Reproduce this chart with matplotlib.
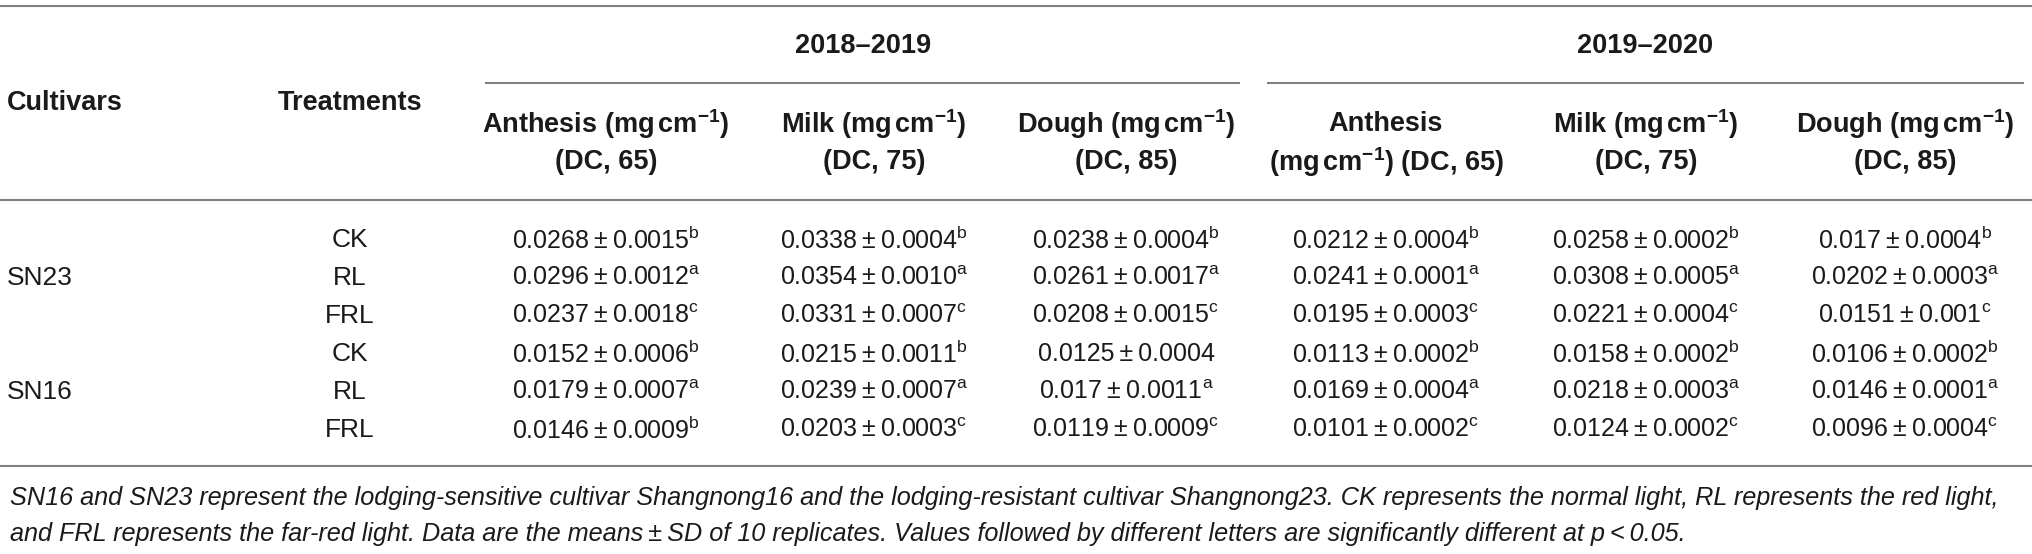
import matplotlib
matplotlib.use("Agg")
import matplotlib.pyplot as plt

plt.rcParams['font.family'] = ['Liberation Sans', 'DejaVu Sans']
plt.rcParams['mathtext.fontset'] = 'custom'
plt.rcParams['mathtext.rm'] = 'Liberation Sans'
plt.rcParams['mathtext.it'] = 'Liberation Sans:italic'
plt.rcParams['mathtext.bf'] = 'Liberation Sans:bold'

# table content
years = ["2018\u20132019", "2019\u20132020"]
cultivars = ["SN23", "SN16"]
treatments = ["CK", "RL", "FRL", "CK", "RL", "FRL"]

unit = r"mg$\,$cm$^{\mathbf{-1}}$"
header_top = ["Anthesis (" + unit + ")", "Milk (" + unit + ")", "Dough (" + unit + ")",
              "Anthesis", "Milk (" + unit + ")", "Dough (" + unit + ")"]
header_bottom = ["(DC, 65)", "(DC, 75)", "(DC, 85)",
                 "(" + unit + ") (DC, 65)", "(DC, 75)", "(DC, 85)"]

anthesis_1819 = ["0.0268", "0.0296", "0.0237", "0.0152", "0.0179", "0.0146"]
anthesis_1819_sd = ["0.0015", "0.0012", "0.0018", "0.0006", "0.0007", "0.0009"]
anthesis_1819_sig = ["b", "a", "c", "b", "a", "b"]

milk_1819 = ["0.0338", "0.0354", "0.0331", "0.0215", "0.0239", "0.0203"]
milk_1819_sd = ["0.0004", "0.0010", "0.0007", "0.0011", "0.0007", "0.0003"]
milk_1819_sig = ["b", "a", "c", "b", "a", "c"]

dough_1819 = ["0.0238", "0.0261", "0.0208", "0.0125", "0.017", "0.0119"]
dough_1819_sd = ["0.0004", "0.0017", "0.0015", "0.0004", "0.0011", "0.0009"]
dough_1819_sig = ["b", "a", "c", "", "a", "c"]

anthesis_1920 = ["0.0212", "0.0241", "0.0195", "0.0113", "0.0169", "0.0101"]
anthesis_1920_sd = ["0.0004", "0.0001", "0.0003", "0.0002", "0.0004", "0.0002"]
anthesis_1920_sig = ["b", "a", "c", "b", "a", "c"]

milk_1920 = ["0.0258", "0.0308", "0.0221", "0.0158", "0.0218", "0.0124"]
milk_1920_sd = ["0.0002", "0.0005", "0.0004", "0.0002", "0.0003", "0.0002"]
milk_1920_sig = ["b", "a", "c", "b", "a", "c"]

dough_1920 = ["0.017", "0.0202", "0.0151", "0.0106", "0.0146", "0.0096"]
dough_1920_sd = ["0.0004", "0.0003", "0.001", "0.0002", "0.0001", "0.0004"]
dough_1920_sig = ["b", "a", "c", "b", "a", "c"]

caption = ["SN16 and SN23 represent the lodging-sensitive cultivar Shangnong16 and the "
           "lodging-resistant cultivar Shangnong23. CK represents the normal light, RL represents the red light,",
           "and FRL represents the far-red light. Data are the means\u2009\u00b1\u2009SD of 10 replicates. "
           "Values followed by different letters are significantly different at p\u2009<\u20090.05."]

columns = [(anthesis_1819, anthesis_1819_sd, anthesis_1819_sig),
           (milk_1819, milk_1819_sd, milk_1819_sig),
           (dough_1819, dough_1819_sd, dough_1819_sig),
           (anthesis_1920, anthesis_1920_sd, anthesis_1920_sig),
           (milk_1920, milk_1920_sd, milk_1920_sig),
           (dough_1920, dough_1920_sd, dough_1920_sig)]

# layout in pixels
W, H = 2032, 554
col_x = [606, 874, 1126, 1386, 1646, 1905]
year_x = [863, 1645]
sub_rules = [(485, 1240), (1267, 2024)]
row_y0, row_dy = 240, 38
text_col = "#1a1a1a"
rule_col = "#808080"

fig = plt.figure(figsize=(W / 100, H / 100), dpi=100)
ax = fig.add_axes([0, 0, 1, 1])
ax.set_xlim(0, W)
ax.set_ylim(H, 0)
ax.axis("off")

# rules
for y in (6, 200, 466):
    ax.plot([0, W], [y, y], color=rule_col, lw=1.5, solid_capstyle="butt")
for x0, x1 in sub_rules:
    ax.plot([x0, x1], [83, 83], color=rule_col, lw=1.5, solid_capstyle="butt")

# header
for x, label in zip(year_x, years):
    ax.text(x, 46, label, ha="center", va="center", fontsize=19.5, fontweight="bold", color=text_col)
ax.text(7, 103, "Cultivars", ha="left", va="center", fontsize=19.5, fontweight="bold", color=text_col)
ax.text(350, 103, "Treatments", ha="center", va="center", fontsize=19.5, fontweight="bold", color=text_col)
for x, top, bottom in zip(col_x, header_top, header_bottom):
    ax.text(x, 124, top, ha="center", va="center", fontsize=19.5, fontweight="bold", color=text_col)
    ax.text(x, 162, bottom, ha="center", va="center", fontsize=19.5, fontweight="bold", color=text_col)

# body
for i, name in enumerate(cultivars):
    ax.text(7, row_y0 + (3 * i + 1) * row_dy, name, ha="left", va="center", fontsize=19, color=text_col)
for i, tr in enumerate(treatments):
    ax.text(350, row_y0 + i * row_dy, tr, ha="center", va="center", fontsize=19, color=text_col)

for x, (means, sds, sigs) in zip(col_x, columns):
    for i in range(len(means)):
        s = means[i] + "\u2009\u00b1\u2009" + sds[i]
        if sigs[i]:
            s += r"$^{\mathrm{" + sigs[i] + "}}$"
        ax.text(x, row_y0 + i * row_dy, s, ha="center", va="center", fontsize=18, color=text_col)

# footnote
for j, line in enumerate(caption):
    ax.text(10, 498 + j * 36, line, ha="left", va="center", fontsize=18.2, style="italic", color=text_col)

fig.savefig("out.png", dpi=100)
